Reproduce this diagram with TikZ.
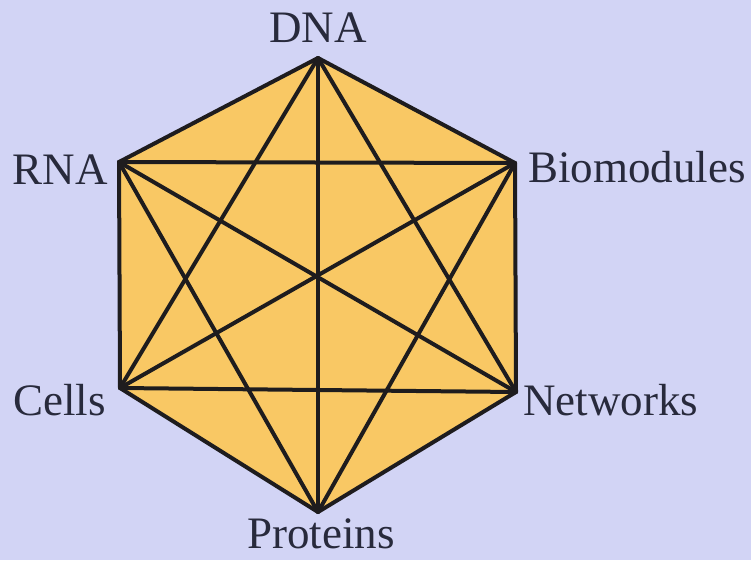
\documentclass[tikz,border=0pt]{standalone}
\usepackage{fontspec}
\setmainfont{Liberation Serif}
\definecolor{bgc}{RGB}{210,212,245}
\definecolor{hexc}{RGB}{249,200,100}
\definecolor{edgec}{RGB}{30,28,30}
\definecolor{txtc}{RGB}{40,42,60}
\begin{document}
\begin{tikzpicture}[x=1pt,y=-1pt,
  lbl/.style={inner sep=0pt,font=\fontsize{45}{50}\selectfont,text=txtc},
  edge/.style={draw=edgec,line width=4pt,line cap=round,line join=round}]
\fill[bgc] (0,0) rectangle (751,560);
\useasboundingbox (0,0) rectangle (751,560);
\coordinate (D) at (318,58);
\coordinate (B) at (515,163);
\coordinate (N) at (516,392);
\coordinate (P) at (318,512);
\coordinate (C) at (120,388);
\coordinate (R) at (119,162);
\fill[hexc] (D) -- (B) -- (N) -- (P) -- (C) -- (R) -- cycle;
\draw[edge] (D) -- (B) -- (N) -- (P) -- (C) -- (R) -- cycle;
\foreach \a/\b in {D/N,D/P,D/C,B/P,B/C,B/R,N/C,N/R,P/R}
  \draw[edge] (\a) -- (\b);
\node[lbl,anchor=base] (tD) at (318,42) {DNA};
\node[lbl,anchor=base east] (tR) at (108,184) {RNA};
\node[lbl,anchor=base west] (tB) at (528,182) {Biomodules};
\node[lbl,anchor=base east] (tC) at (106,415) {Cells};
\node[lbl,anchor=base west] (tN) at (523,415) {Networks};
\node[lbl,anchor=base] (tP) at (321,548) {Proteins};
\end{tikzpicture}
\end{document}
